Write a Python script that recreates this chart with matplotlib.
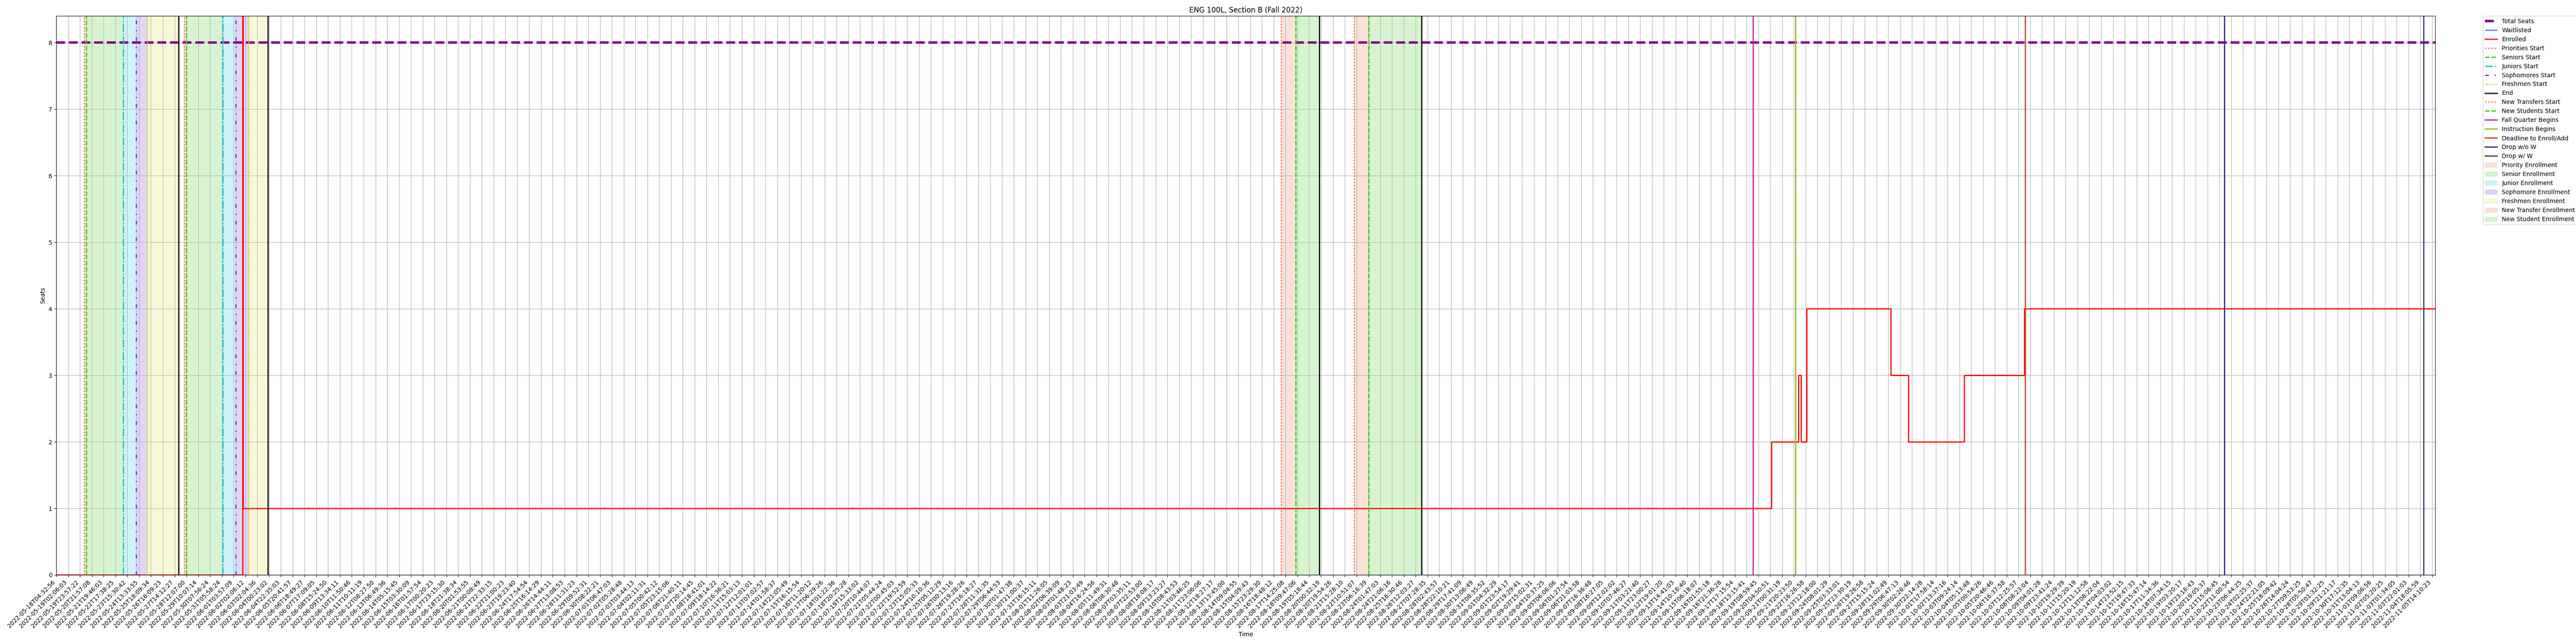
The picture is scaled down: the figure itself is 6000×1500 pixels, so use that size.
import matplotlib
matplotlib.use("Agg")
import matplotlib.pyplot as plt
import numpy as np

# ---------------- data ----------------
tick_labels = [
    "2022-05-18T04:32:56", "2022-05-19T02:06:03", "2022-05-19T23:57:22", "2022-05-20T21:57:08",
    "2022-05-21T19:46:03", "2022-05-22T17:38:25", "2022-05-23T15:30:42", "2022-05-24T13:33:55",
    "2022-05-25T18:09:34", "2022-05-26T16:09:23", "2022-05-27T14:12:27", "2022-05-28T12:07:00",
    "2022-05-29T10:07:14", "2022-05-30T07:56:24", "2022-05-31T05:58:24", "2022-06-01T03:57:09",
    "2022-06-02T02:06:12", "2022-06-03T02:04:36", "2022-06-04T00:23:02", "2022-06-04T22:35:03",
    "2022-06-05T20:41:57", "2022-06-06T18:49:27", "2022-06-07T17:09:05", "2022-06-08T15:24:50",
    "2022-06-09T13:34:11", "2022-06-10T11:50:46", "2022-06-11T10:11:19", "2022-06-12T08:27:50",
    "2022-06-13T06:49:36", "2022-06-14T05:15:45", "2022-06-15T03:30:09", "2022-06-16T01:57:54",
    "2022-06-17T00:20:23", "2022-06-17T23:15:30", "2022-06-18T21:38:34", "2022-06-20T01:53:55",
    "2022-06-21T00:08:49", "2022-06-21T22:33:15", "2022-06-22T21:00:23", "2022-06-23T19:23:40",
    "2022-06-24T17:54:54", "2022-06-25T16:14:29", "2022-06-26T14:44:11", "2022-06-27T13:08:53",
    "2022-06-28T11:31:23", "2022-06-29T09:52:31", "2022-06-30T08:22:21", "2022-07-01T06:47:03",
    "2022-07-02T05:28:48", "2022-07-03T03:44:13", "2022-07-04T02:11:31", "2022-07-05T00:42:12",
    "2022-07-05T23:15:06", "2022-07-06T21:40:11", "2022-07-07T20:14:45", "2022-07-08T18:41:01",
    "2022-07-09T18:14:22", "2022-07-10T16:36:21", "2022-07-11T15:03:13", "2022-07-12T12:01:01",
    "2022-07-13T07:02:57", "2022-07-14T01:58:37", "2022-07-14T21:05:49", "2022-07-15T16:15:54",
    "2022-07-16T11:20:12", "2022-07-17T06:29:26", "2022-07-18T01:22:36", "2022-07-18T20:25:28",
    "2022-07-19T15:33:02", "2022-07-20T10:44:07", "2022-07-21T05:44:24", "2022-07-22T00:45:03",
    "2022-07-22T19:52:59", "2022-07-23T15:05:33", "2022-07-24T10:10:36", "2022-07-25T05:12:29",
    "2022-07-26T00:13:16", "2022-07-26T19:28:26", "2022-07-27T16:18:27", "2022-07-28T11:31:35",
    "2022-07-29T06:44:53", "2022-07-30T01:47:38", "2022-07-30T21:00:37", "2022-07-31T16:15:11",
    "2022-08-01T11:26:05", "2022-08-02T06:39:09", "2022-08-03T01:48:23", "2022-08-03T21:03:49",
    "2022-08-04T16:24:56", "2022-08-05T11:49:31", "2022-08-06T08:30:48", "2022-08-07T03:35:11",
    "2022-08-07T22:53:00", "2022-08-08T18:08:17", "2022-08-09T13:23:27", "2022-08-10T08:43:53",
    "2022-08-11T03:46:25", "2022-08-11T23:06:06", "2022-08-12T18:27:17", "2022-08-13T13:45:00",
    "2022-08-14T09:04:55", "2022-08-15T04:09:43", "2022-08-15T23:29:30", "2022-08-16T18:48:12",
    "2022-08-17T14:25:08", "2022-08-18T09:47:06", "2022-08-19T05:18:44", "2022-08-20T00:32:19",
    "2022-08-20T19:54:26", "2022-08-21T15:28:10", "2022-08-22T10:51:07", "2022-08-23T06:16:39",
    "2022-08-24T01:47:03", "2022-08-24T21:06:16", "2022-08-25T16:30:46", "2022-08-26T12:03:27",
    "2022-08-27T07:28:35", "2022-08-28T02:43:57", "2022-08-28T22:10:21", "2022-08-29T17:41:09",
    "2022-08-30T13:06:49", "2022-08-31T08:35:52", "2022-09-01T04:32:29", "2022-09-01T23:54:17",
    "2022-09-02T19:29:41", "2022-09-03T15:02:31", "2022-09-04T10:37:25", "2022-09-05T06:06:06",
    "2022-09-06T01:27:54", "2022-09-06T21:03:58", "2022-09-07T16:36:48", "2022-09-08T16:27:05",
    "2022-09-09T12:02:02", "2022-09-10T07:46:27", "2022-09-11T03:21:40", "2022-09-11T23:00:27",
    "2022-09-12T19:01:20", "2022-09-13T14:41:03", "2022-09-14T10:18:40", "2022-09-15T06:18:07",
    "2022-09-16T01:55:18", "2022-09-16T21:36:28", "2022-09-17T17:15:54", "2022-09-18T13:15:41",
    "2022-09-19T08:59:45", "2022-09-20T04:50:51", "2022-09-21T00:31:19", "2022-09-21T20:23:50",
    "2022-09-22T16:26:58", "2022-09-23T12:18:00", "2022-09-24T08:01:29", "2022-09-25T03:33:01",
    "2022-09-25T23:30:19", "2022-09-26T19:26:58", "2022-09-27T15:15:24", "2022-09-28T11:02:49",
    "2022-09-29T06:47:13", "2022-09-30T02:26:46", "2022-09-30T22:14:28", "2022-10-01T17:58:14",
    "2022-10-02T13:37:16", "2022-10-03T09:24:14", "2022-10-04T05:13:48", "2022-10-05T00:54:26",
    "2022-10-05T20:46:46", "2022-10-06T16:37:58", "2022-10-07T12:25:57", "2022-10-08T08:23:04",
    "2022-10-09T04:01:28", "2022-10-09T23:41:24", "2022-10-10T19:29:39", "2022-10-11T15:20:19",
    "2022-10-12T11:12:58", "2022-10-13T08:22:04", "2022-10-14T04:03:02", "2022-10-14T23:52:15",
    "2022-10-15T19:47:33", "2022-10-16T15:47:14", "2022-10-17T11:34:36", "2022-10-18T07:34:15",
    "2022-10-19T03:20:17", "2022-10-19T23:16:43", "2022-10-20T19:05:37", "2022-10-21T15:06:45",
    "2022-10-22T11:00:54", "2022-10-23T06:44:25", "2022-10-24T02:25:37", "2022-10-24T22:21:05",
    "2022-10-25T18:09:42", "2022-10-26T14:04:24", "2022-10-27T09:53:25", "2022-10-28T05:50:47",
    "2022-10-29T01:32:25", "2022-10-29T21:21:17", "2022-10-30T17:12:35", "2022-10-31T13:04:13",
    "2022-11-01T09:06:56", "2022-11-02T05:20:25", "2022-11-03T01:34:05", "2022-11-03T22:01:03",
    "2022-11-04T18:05:59", "2022-11-05T14:10:23",
]

# positions are in tick-index units (one unit = one labelled tick)
x_end = 201.26
total_seats = 8

enrolled_x = [0.0, 15.75, 15.80, 145.1, 147.4, 147.6, 148.1, 155.2, 156.7, 161.4, 166.5, 201.26]
enrolled_y = [0, 9, 1, 2, 3, 2, 4, 3, 2, 3, 4, 4]

waitlisted_x = [0.0, 201.26]
waitlisted_y = [0, 0]

priorities_start = [2.34, 10.82]
seniors_start = [2.54, 10.99]
juniors_start = [5.65, 14.08]
sophomores_start = [6.75, 15.17]
freshmen_start = [7.68, 16.26]
phase_end = [10.33, 17.90, 106.87, 115.49]
new_transfers_start = [103.63, 109.80]
new_students_start = [104.86, 111.04]
fall_quarter_begins = 143.54
instruction_begins = 147.13
deadline_enroll_add = 166.57
drop_without_w = 183.43
drop_with_w = 200.29

# ---------------- styles ----------------
C_PRI = "#ee6c38"
C_SEN = "#33cc11"
C_JUN = "#11c6d6"
C_SOPH = "#6a2bd9"
C_FRESH = "#e0e03a"

fig = plt.figure(figsize=(60, 15), dpi=100)
ax = fig.add_axes([131.2 / 6000, 1 - 1339 / 1500, (5672 - 131.2) / 6000, (1339 - 37.3) / 1500])

handles = {}

h, = ax.plot([0, x_end], [total_seats, total_seats], color="purple", lw=4, ls="--", label="Total Seats")
handles["Total Seats"] = h
h, = ax.step(waitlisted_x, waitlisted_y, where="post", color="blue", lw=1, label="Waitlisted")
handles["Waitlisted"] = h
h, = ax.step(enrolled_x, enrolled_y, where="post", color="red", lw=2, label="Enrolled")
handles["Enrolled"] = h


def vlines(xs, label, **kw):
    for i, xv in enumerate(xs):
        hh = ax.axvline(xv, label=label if i == 0 else "_nolegend_", **kw)
        if i == 0:
            handles[label] = hh


def spans(starts, stops, label, color):
    for i, (a, b) in enumerate(zip(starts, stops)):
        hh = ax.axvspan(a, b, color=color, alpha=0.2, label=label if i == 0 else "_nolegend_")
        if i == 0:
            handles[label] = hh


vlines(priorities_start, "Priorities Start", color=C_PRI, ls=":", lw=2)
vlines(seniors_start, "Seniors Start", color=C_SEN, ls="--", lw=2)
vlines(juniors_start, "Juniors Start", color=C_JUN, ls="-.", lw=2)
vlines(sophomores_start, "Sophomores Start", color=C_SOPH, ls=(0, (3, 5, 1, 5)), lw=2)
vlines(freshmen_start, "Freshmen Start", color=C_FRESH, ls=(0, (3, 1, 1, 1, 1, 1)), lw=2)
vlines(phase_end, "End", color="black", lw=2)
vlines(new_transfers_start, "New Transfers Start", color=C_PRI, ls=":", lw=2)
vlines(new_students_start, "New Students Start", color=C_SEN, ls="--", lw=2)
vlines([fall_quarter_begins], "Fall Quarter Begins", color="#d81f9e", lw=2)
vlines([instruction_begins], "Instruction Begins", color="#99b812", lw=2)
vlines([deadline_enroll_add], "Deadline to Enroll/Add", color="#cc4422", lw=2)
vlines([drop_without_w], "Drop w/o W", color="#2b2b8c", lw=2)
vlines([drop_with_w], "Drop w/ W", color="#2e3d5c", lw=2)

spans(priorities_start, seniors_start, "Priority Enrollment", C_PRI)
spans(seniors_start, juniors_start, "Senior Enrollment", C_SEN)
spans(juniors_start, sophomores_start, "Junior Enrollment", C_JUN)
spans(sophomores_start, freshmen_start, "Sophomore Enrollment", C_SOPH)
spans(freshmen_start, [phase_end[0], phase_end[1]], "Freshmen Enrollment", C_FRESH)
spans(new_transfers_start, new_students_start, "New Transfer Enrollment", C_PRI)
spans(new_students_start, [phase_end[2], phase_end[3]], "New Student Enrollment", C_SEN)

ax.set_xlim(0, x_end)
ax.set_ylim(0, total_seats * 1.05)
ax.set_xticks(np.arange(len(tick_labels)))
ax.set_xticklabels(tick_labels, rotation=45, ha="right")
ax.grid(True)
ax.set_title("ENG 100L, Section B (Fall 2022)")
ax.set_xlabel("Time")
ax.set_ylabel("Seats")

order = ["Total Seats", "Waitlisted", "Enrolled", "Priorities Start", "Seniors Start", "Juniors Start",
         "Sophomores Start", "Freshmen Start", "End", "New Transfers Start", "New Students Start",
         "Fall Quarter Begins", "Instruction Begins", "Deadline to Enroll/Add", "Drop w/o W", "Drop w/ W",
         "Priority Enrollment", "Senior Enrollment", "Junior Enrollment", "Sophomore Enrollment",
         "Freshmen Enrollment", "New Transfer Enrollment", "New Student Enrollment"]
ax.legend([handles[k] for k in order], order, bbox_to_anchor=(1.02, 1), loc="upper left", borderaxespad=0)

fig.savefig("out.png", dpi=100)
